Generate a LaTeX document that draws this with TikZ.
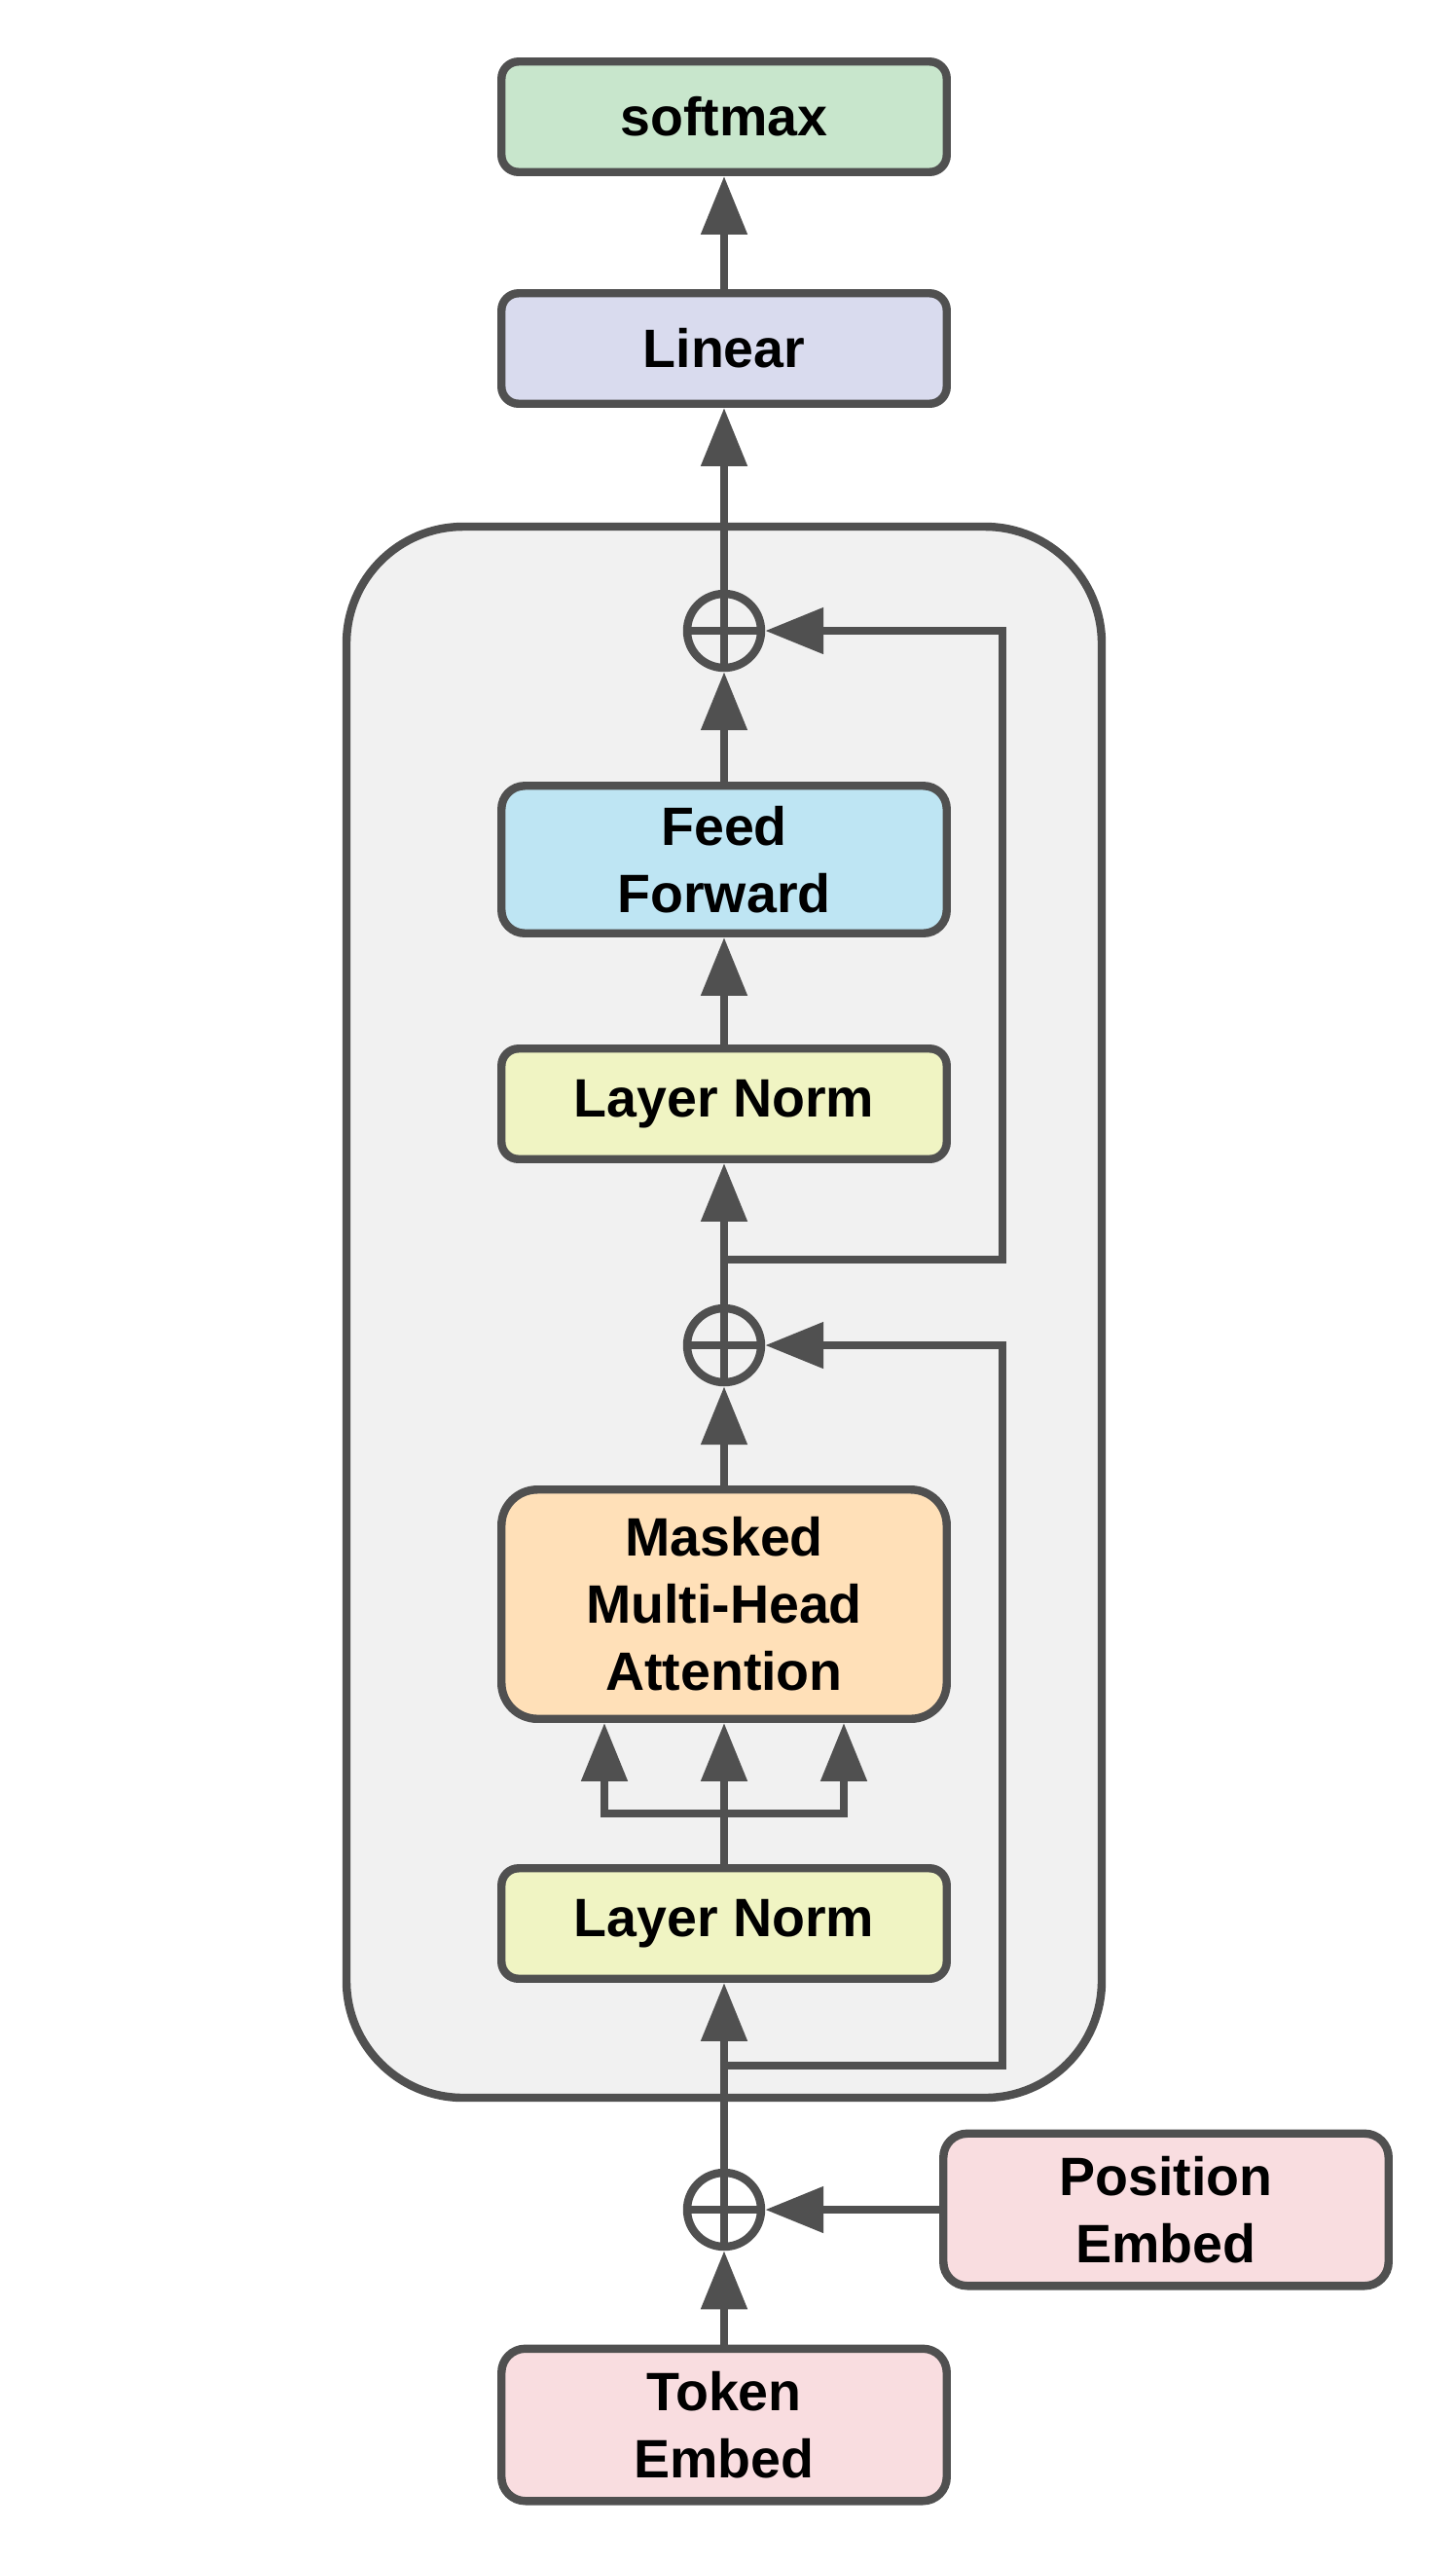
\documentclass[tikz,border=0pt]{standalone}
\usepackage{fontspec}
\setmainfont{Liberation Sans}
\usepackage{xcolor}
\usetikzlibrary{arrows.meta}

\definecolor{linegray}{HTML}{505050}
\definecolor{framegray}{HTML}{F1F1F1}
\definecolor{smaxgreen}{HTML}{C8E6CC}
\definecolor{linblue}{HTML}{D9DBEE}
\definecolor{ffblue}{HTML}{BEE5F3}
\definecolor{normlime}{HTML}{F0F4C3}
\definecolor{attnorange}{HTML}{FFE0B8}
\definecolor{embedpink}{HTML}{F9DDE0}

\tikzset{
  block/.style={draw=linegray, line width=2.4pt, rounded corners=5pt,
    minimum width=4.575cm, minimum height=1.135cm, inner sep=0pt,
    align=center, font=\bfseries\fontsize{15.8pt}{19.6pt}\selectfont},
  add/.style={circle, draw=linegray, line width=2.4pt, minimum size=0.76cm,
    inner sep=0pt,
    path picture={\draw[linegray, line width=2.4pt]
      (path picture bounding box.north) -- (path picture bounding box.south)
      (path picture bounding box.west) -- (path picture bounding box.east);}},
  link/.style={draw=linegray, line width=2.4pt},
  arr/.style={link, -{Triangle[length=0.6cm, width=0.46cm]}},
}

\begin{document}
\begin{tikzpicture}
                \useasboundingbox (0,0) rectangle (14.96,-26.34);

                % decoder block
                \draw[linegray, fill=framegray, line width=2.4pt, rounded corners=1.2cm]
                    (3.56,-5.41) rectangle (11.32,-21.55);

                \node[block, fill=smaxgreen] (SMAX) at (7.44, -1.20){softmax};
                \node[block, fill=linblue] (LIN) at (7.44, -3.58){Linear};
                \node[add] (ADD3) at (7.44, -6.48){};
                \node[block, fill=ffblue, minimum height=1.515cm, rounded corners=6.8pt] (FF) at (7.44, -8.83){Feed\\Forward};
                \node[block, fill=normlime] (LN2) at (7.44, -11.34){Layer Norm};
                \node[add] (ADD2) at (7.44, -13.82){};
                \node[block, fill=attnorange, minimum height=2.355cm, rounded corners=10.5pt] (MHA) at (7.44, -16.48){Masked\\Multi-Head\\Attention};
                \node[block, fill=normlime] (LN1) at (7.44, -19.76){Layer Norm};
                \node[add] (ADD1) at (7.44, -22.70){};
                \node[block, fill=embedpink, minimum height=1.565cm, rounded corners=7pt] (POS) at (11.98, -22.70){Position\\Embed};
                \node[block, fill=embedpink, minimum height=1.565cm, rounded corners=7pt] (TOK) at (7.44, -24.91){Token\\Embed};

                \coordinate (SPL) at (7.44, -18.63);
                \coordinate (SK1) at (7.44, -21.22);
                \coordinate (SK1R) at (10.30, -21.22);
                \coordinate (SK2) at (7.44, -12.94);
                \coordinate (SK2R) at (10.30, -12.94);

                \draw[arr] (TOK) -- (ADD1);
                \draw[arr] (POS) -- (ADD1);
                \draw[arr] (ADD1) -- (LN1);
                \draw[link] (LN1) -- (SPL);
                \foreach \dx in {-1.23, 0, 1.23}
                    \draw[arr] (SPL) -| ([xshift=\dx cm]MHA.south);
                \draw[arr] (MHA) -- (ADD2);
                \draw[arr, rounded corners=0pt] (SK1) -- (SK1R) |- (ADD2);
                \draw[arr] (ADD2) -- (LN2);
                \draw[arr] (LN2) -- (FF);
                \draw[arr] (FF) -- (ADD3);
                \draw[arr] (SK2) -- (SK2R) |- (ADD3);
                \draw[arr] (ADD3) -- (LIN);
                \draw[arr] (LIN) -- (SMAX);
            \end{tikzpicture}
\end{document}
